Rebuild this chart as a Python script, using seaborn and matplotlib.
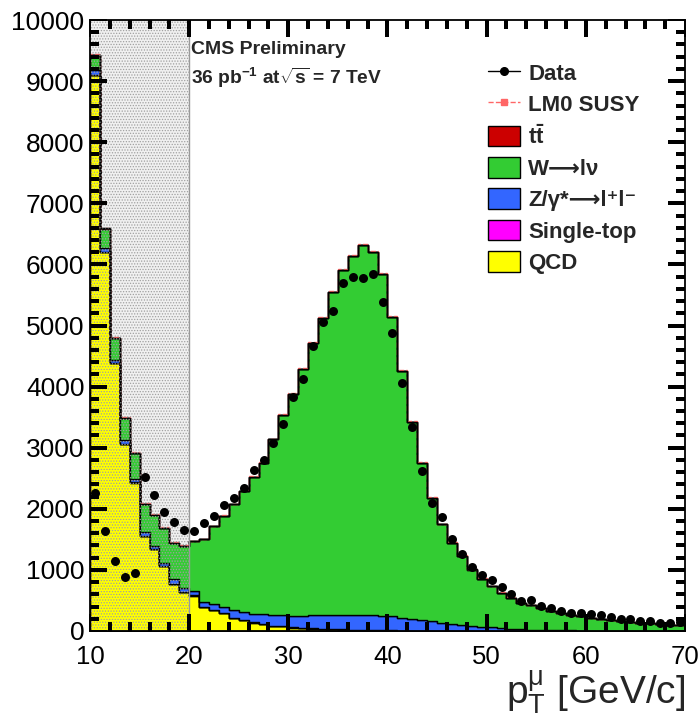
import numpy as np
import pandas as pd
import matplotlib
matplotlib.use("Agg")
import matplotlib.pyplot as plt
import matplotlib.transforms as mtransforms
import seaborn as sns
from matplotlib.lines import Line2D
from matplotlib.patches import Patch
from matplotlib.collections import LineCollection
from matplotlib.ticker import MultipleLocator

# ---------------- data ----------------
bin_edges = list(range(10, 71))          # 1 GeV bins, 10..70

qcd = [9100, 6200, 4390, 3065, 2430, 1560, 1345, 1065, 770, 640,
       579, 388, 339, 290, 208, 180, 137, 109, 87, 87,
       55, 44, 38, 33, 33, 22, 20, 18, 15, 12,
       10, 5, 4, 3, 3, 2, 2, 2, 1, 1,
       1, 1, 1, 1, 1, 1, 1, 1, 1, 1,
       0, 0, 0, 0, 0, 0, 0, 0, 0, 0]

single_top = [4, 4, 3, 3, 3, 3, 3, 3, 3, 3,
              3, 3, 3, 3, 3, 3, 3, 3, 3, 3,
              3, 3, 3, 3, 3, 3, 3, 3, 3, 3,
              3, 3, 2, 2, 2, 2, 2, 2, 2, 2,
              2, 2, 1, 1, 1, 1, 1, 1, 1, 1,
              1, 1, 1, 1, 1, 1, 1, 1, 1, 1]

zjets = [80, 65, 50, 50, 60, 50, 50, 50, 75, 60,
         77, 82, 104, 98, 136, 126, 142, 164, 175, 175,
         191, 202, 213, 224, 224, 240, 242, 244, 247, 238,
         230, 205, 191, 167, 152, 135, 116, 99, 81, 69,
         59, 45, 35, 27, 18, 13, 10, 8, 7, 6,
         5, 5, 4, 4, 3, 3, 3, 2, 2, 2]

wjets = [240, 315, 352, 367, 422, 462, 497, 567, 592, 687,
         811, 1027, 1269, 1489, 1728, 1981, 2238, 2474, 2870, 3270,
         3631, 4041, 4461, 4865, 5290, 5645, 5875, 6055, 5940, 5592,
         4897, 4042, 3223, 2579, 2019, 1612, 1321, 1128, 922, 781,
         672, 577, 506, 432, 403, 354, 313, 277, 250, 235,
         209, 193, 172, 156, 147, 131, 120, 110, 99, 93]

ttbar = [6, 6, 5, 5, 5, 5, 5, 5, 5, 5,
         5, 5, 5, 5, 5, 5, 5, 5, 5, 5,
         5, 5, 5, 5, 5, 5, 5, 5, 5, 5,
         5, 5, 5, 4, 4, 4, 4, 4, 4, 4,
         4, 3, 3, 3, 3, 3, 3, 3, 3, 3,
         3, 3, 3, 3, 2, 2, 2, 2, 2, 2]

lm0 = [8, 8, 8, 8, 8, 8, 8, 8, 8, 8,
       6, 6, 6, 6, 6, 6, 6, 6, 6, 6,
       6, 6, 6, 6, 6, 6, 6, 6, 6, 6,
       5, 5, 5, 5, 5, 4, 4, 4, 4, 4,
       3, 3, 3, 3, 3, 3, 3, 3, 3, 3,
       2, 2, 2, 2, 2, 2, 2, 2, 2, 2]

data = [2260, 1640, 1150, 885, 950, 2525, 2230, 1950, 1785, 1655,
        1640, 1770, 1885, 2065, 2180, 2345, 2640, 2805, 3080, 3390,
        3835, 4130, 4670, 5050, 5245, 5690, 5800, 5785, 5835, 5390,
        4870, 4065, 3345, 2620, 2100, 1870, 1510, 1255, 1055, 918,
        836, 715, 606, 490, 508, 415, 382, 333, 289, 300,
        278, 256, 224, 202, 191, 169, 164, 136, 125, 142]

process_names = ["tt", "W", "Z", "Single-top", "QCD"]   # top -> bottom
process_colors = ["#cc0000", "#33cc33", "#3366ff", "#ff00ff", "#ffff00"]
legend_labels = [r"t$\mathbf{\bar{t}}$", "W\u27f6l\u03bd",
                 "Z/\u03b3*\u27f6l\u207al\u207b",
                 "Single-top", "QCD"]

# ---------------- build table ----------------
edges = np.array(bin_edges, dtype=float)
centers = 0.5 * (edges[:-1] + edges[1:])
series = {"tt": ttbar, "W": wjets, "Z": zjets, "Single-top": single_top, "QCD": qcd}
df = pd.concat([pd.DataFrame({"pt": centers, "weight": np.array(series[p], dtype=float),
                              "process": p})
                for p in process_names], ignore_index=True)

# ---------------- style ----------------
sns.set_style("ticks")
plt.rcParams["font.family"] = ["Liberation Sans", "DejaVu Sans"]
plt.rcParams["mathtext.fontset"] = "custom"
plt.rcParams["mathtext.rm"] = "Liberation Sans"
plt.rcParams["mathtext.it"] = "Liberation Sans:italic"
plt.rcParams["mathtext.bf"] = "Liberation Sans:bold"
plt.rcParams["hatch.linewidth"] = 0.6
plt.rcParams["axes.axisbelow"] = False
plt.rcParams["xtick.color"] = "black"
plt.rcParams["ytick.color"] = "black"

fig = plt.figure(figsize=(7.0, 7.18), dpi=100)
ax = fig.add_axes([90 / 700, 1 - 631 / 718, 595 / 700, 611 / 718])
ax.set_axisbelow(False)

sns.histplot(data=df, x="pt", weights="weight", hue="process",
             hue_order=process_names, palette=process_colors,
             multiple="stack", bins=len(bin_edges) - 1,
             binrange=(bin_edges[0], bin_edges[-1]), element="step", fill=True,
             alpha=1.0, edgecolor="black", linewidth=1.0, legend=False, ax=ax)
for coll in list(ax.collections):
    coll.set_zorder(1)

# LM0 SUSY line on top of the stack
stack_top = np.array(qcd) + np.array(single_top) + np.array(zjets) + np.array(wjets) + np.array(ttbar)
ax.stairs(stack_top + np.array(lm0), edges, color="#ff6666", linestyle="--",
          linewidth=1.0, zorder=1.6)
ax.stairs(stack_top, edges, color="black", linewidth=1.0, zorder=1.7)

# shaded (excluded) region 10-20
ax.axvspan(10, 20, facecolor="#f0f0f0", edgecolor="none", zorder=0)
ax.axvspan(10, 20, facecolor="none", hatch="......", edgecolor="#a0a0a0",
           linewidth=0, zorder=2)
ax.axvline(20, color="#9a9a9a", linewidth=1.0, zorder=2)

# data points
sns.scatterplot(x=centers, y=data, color="black", s=42, edgecolor="black",
                linewidth=0, zorder=6, ax=ax, legend=False)

ax.set_xlim(10, 70)
ax.set_ylim(0, 10000)
ax.xaxis.set_major_locator(MultipleLocator(10))
ax.xaxis.set_minor_locator(MultipleLocator(2))
ax.yaxis.set_major_locator(MultipleLocator(1000))
ax.yaxis.set_minor_locator(MultipleLocator(200))
ax.tick_params(which="both", direction="in", top=True, right=True,
               bottom=True, left=True, width=1.3, color="black")
ax.tick_params(which="major", length=12)
ax.tick_params(which="minor", length=6.5)
ax.tick_params(axis="y", labelsize=19, pad=4)
ax.tick_params(axis="x", labelsize=18.5, pad=10)
for lab in ax.get_xticklabels():
    lab.set_family(["Liberation Sans Narrow", "Liberation Sans"])
for s in ax.spines.values():
    s.set_linewidth(1.3)
    s.set_color("black")
    s.set_zorder(7)
ax.xaxis.set_zorder(5)
ax.yaxis.set_zorder(5)
ax.set_xlabel("")
ax.set_ylabel("")

# ROOT-style inward tick marks drawn on top of the filled stack
tx = mtransforms.blended_transform_factory(ax.transData, ax.transAxes)
ty = mtransforms.blended_transform_factory(ax.transAxes, ax.transData)
xmaj, xmin_len = 17 / 611, 9 / 611
ymaj, ymin_len = 17 / 595, 9 / 595
xsegs = []
for xv in ax.xaxis.get_minorticklocs().tolist() + ax.xaxis.get_majorticklocs().tolist():
    if xv <= 10 or xv >= 70:
        continue
    L = xmaj if abs(xv % 10) < 1e-6 else xmin_len
    xsegs.append([(xv, 0), (xv, L)])
    xsegs.append([(xv, 1), (xv, 1 - L)])
ysegs = []
for yv in ax.yaxis.get_minorticklocs().tolist() + ax.yaxis.get_majorticklocs().tolist():
    if yv <= 0 or yv >= 10000:
        continue
    L = ymaj if abs(yv % 1000) < 1e-6 else ymin_len
    ysegs.append([(0, yv), (L, yv)])
    ysegs.append([(1, yv), (1 - L, yv)])
ax.add_collection(LineCollection(xsegs, colors="#000000", linewidths=1.5,
                                 transform=tx, zorder=5.5, clip_on=False,
                                 antialiaseds=False), autolim=False)
ax.add_collection(LineCollection(ysegs, colors="#000000", linewidths=1.5,
                                 transform=ty, zorder=5.5, clip_on=False,
                                 antialiaseds=False), autolim=False)
ax.set_xlim(10, 70)
ax.set_ylim(0, 10000)

fig.text(685 / 700, 1 - 703 / 718, "p$_{\\mathrm{T}}^{\\mathrm{\u03bc}}$ [GeV/c]",
         ha="right", va="baseline", fontsize=28,
         family=["Liberation Sans Narrow", "Liberation Sans"])

# CMS labels
fig.text(191 / 700, 1 - 50 / 718, "CMS Preliminary", ha="left", va="center",
         fontsize=14, fontweight="bold")
fig.text(191 / 700, 1 - 78 / 718,
         r"36 pb$^{\mathbf{-1}}$ at$\mathbf{\sqrt{s}}$ = 7 TeV",
         ha="left", va="center", fontsize=13.8, fontweight="bold")

# legend
handles = [Line2D([], [], color="black", marker="o", markersize=5.5, linewidth=1.0),
           Line2D([], [], color="#ff6666", marker="s", markersize=5, linestyle="--", linewidth=1.0)]
labels = ["Data", "LM0 SUSY"]
for name, col, lab in zip(process_names, process_colors, legend_labels):
    handles.append(Patch(facecolor=col, edgecolor="black", linewidth=1.0))
    labels.append(lab)
leg = ax.legend(handles, labels, loc="upper left",
                bbox_to_anchor=((488 - 90) / 595, (631 - 62) / 611),
                frameon=False, borderpad=0, borderaxespad=0,
                handlelength=1.42, handleheight=1.05, handletextpad=0.38,
                labelspacing=0.38, prop={"size": 16, "weight": "bold"})
leg.set_zorder(8)

fig.savefig("out.png", dpi=100)
